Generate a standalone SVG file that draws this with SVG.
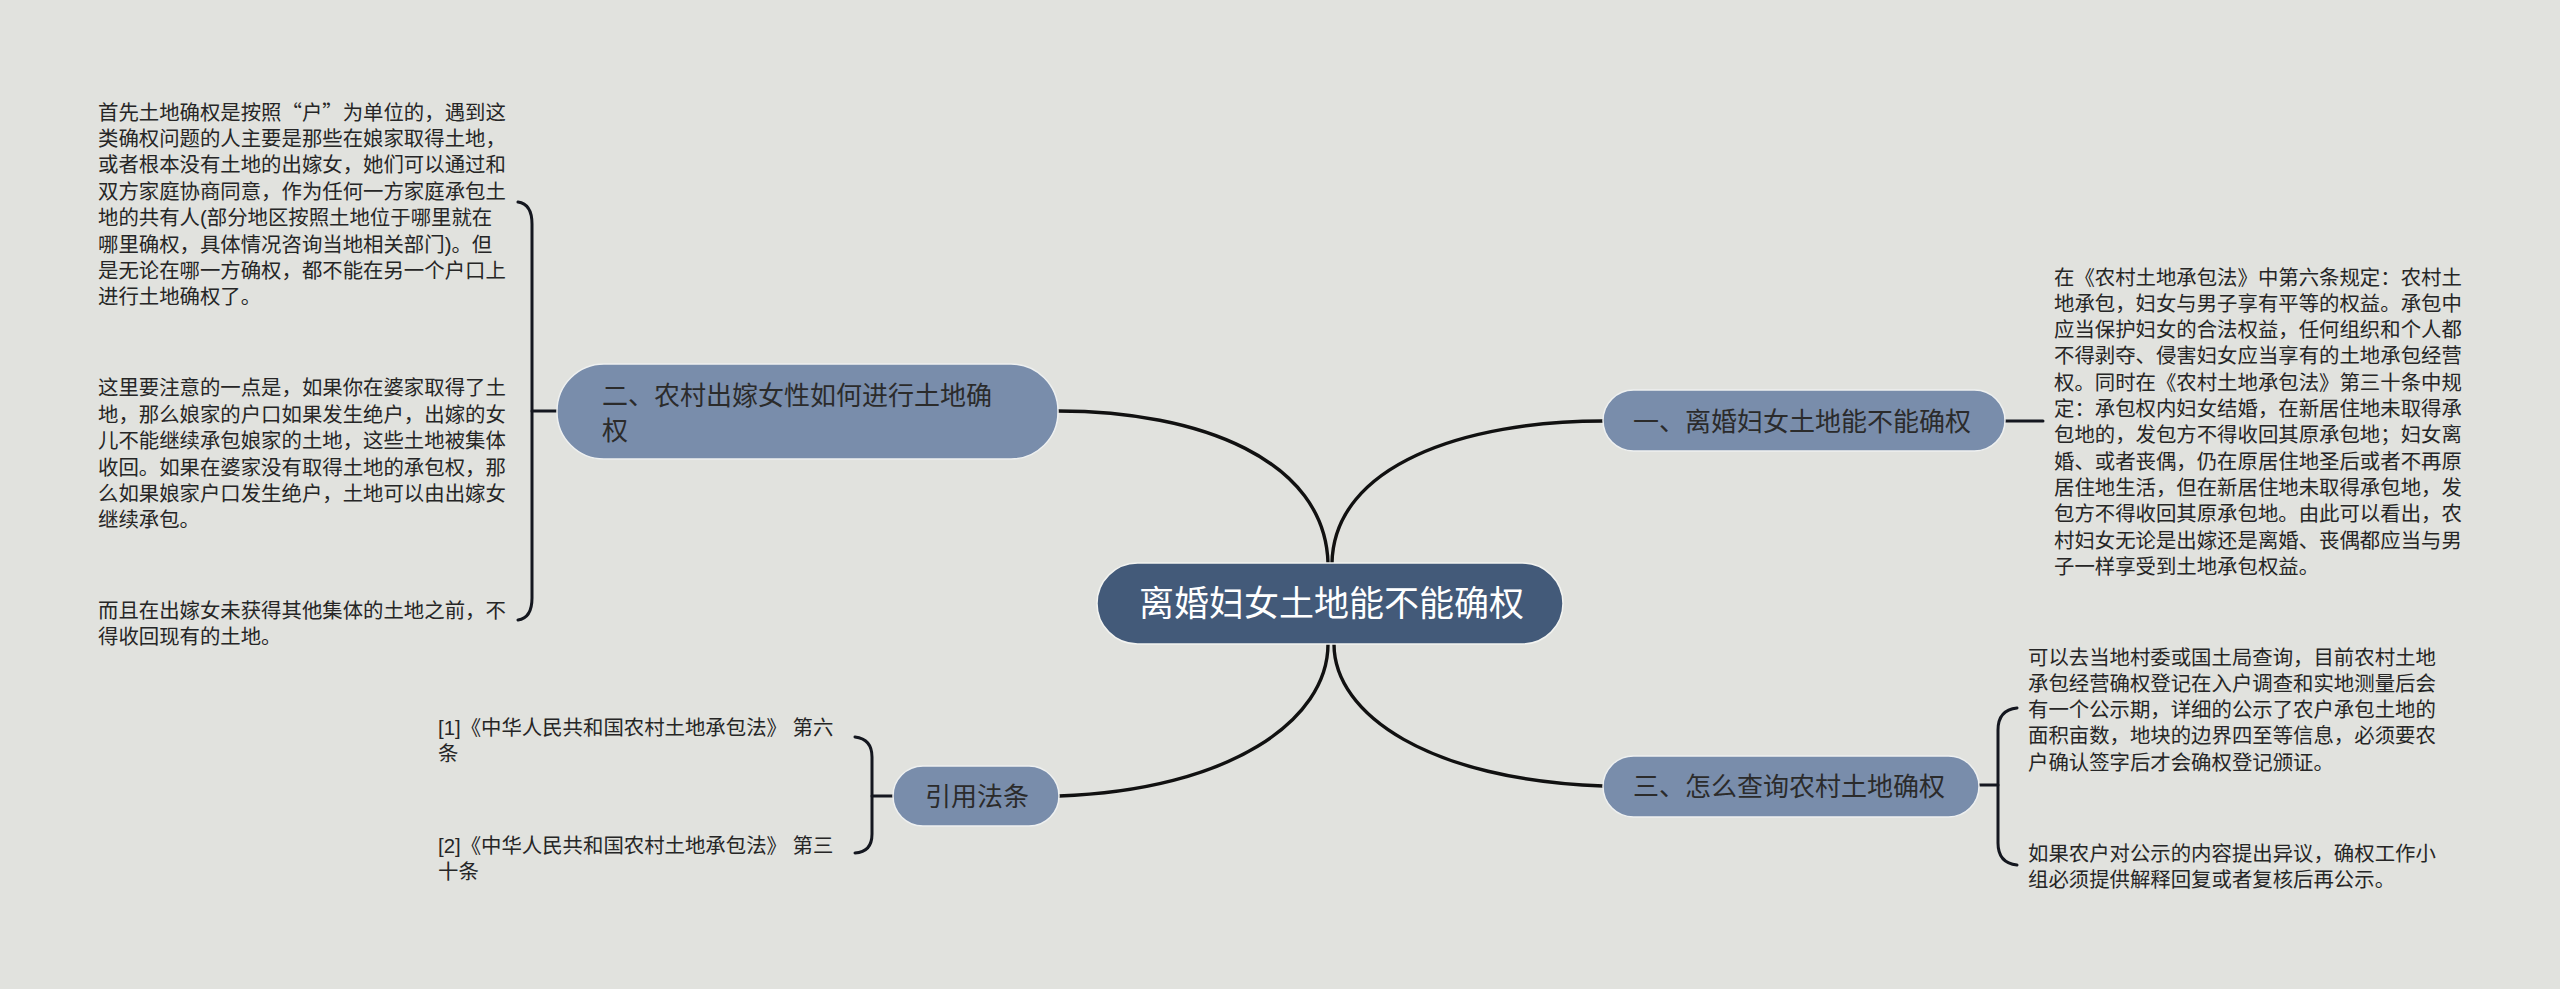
<svg xmlns="http://www.w3.org/2000/svg" width="2560" height="989" viewBox="0 0 2560 989">
<style>
.bg{fill:#e1e2de}
.root{fill:#435a79;stroke:#f2f3f0;stroke-width:1.5}
.br{fill:#798dab;stroke:#eef0f0;stroke-width:1.5}
.rt{font-family:"Liberation Sans","Noto Sans CJK SC",sans-serif;font-size:35px;fill:#ffffff}
.bt{font-family:"Liberation Sans","Noto Sans CJK SC",sans-serif;font-size:26px;fill:#2b2b2b}
.dt{font-family:"Liberation Sans","Noto Sans CJK SC",sans-serif;font-size:20.4px;fill:#262626}
.cjk{font-family:"Noto Sans CJK SC",sans-serif}
.ln{fill:none;stroke:#14171f;stroke-width:3;stroke-linecap:round}
.cv{fill:none;stroke:#111111;stroke-width:3.4;stroke-linecap:round}
</style>
<rect class="bg" x="0" y="0" width="2560" height="989"/>
<g id="connectors">
<path class="cv" d="M1058,411 C1200,411 1325,460 1328,563"/>
<path class="cv" d="M1603,421 C1465,421 1334,465 1332,563"/>
<path class="cv" d="M1059,796 C1230,790 1328,720 1328,644"/>
<path class="cv" d="M1603,786 C1430,780 1334,715 1334,644"/>
<path class="ln" d="M518,202 Q532,204 532,224 L532,598 Q532,618 518,620"/>
<path class="ln" d="M532,411 H557"/>
<path class="ln" d="M2005,421 H2043"/>
<path class="ln" d="M2017,708 Q1998,710 1998,730 L1998,843 Q1998,863 2017,865"/>
<path class="ln" d="M1979,785 H1998"/>
<path class="ln" d="M855,737 Q872,739 872,757 L872,834 Q872,852 855,853"/>
<path class="ln" d="M872,796 H893"/>
</g>
<g id="root">
<rect class="root" x="1097" y="563" width="466" height="81" rx="40.5"/>
<text class="rt" x="1139" y="616">离婚妇女土地能不能确权</text>
</g>
<g id="node-1">
<rect class="br" x="1603" y="390" width="402" height="61" rx="30.5"/>
<text class="bt" x="1633" y="431">一、离婚妇女土地能不能确权</text>
</g>
<g id="node-2">
<rect class="br" x="557" y="364" width="501" height="95" rx="47"/>
<text class="bt" x="602" y="405">二、农村出嫁女性如何进行土地确</text>
<text class="bt" x="602" y="440">权</text>
</g>
<g id="node-3">
<rect class="br" x="1603" y="756" width="376" height="61" rx="30.5"/>
<text class="bt" x="1633" y="796">三、怎么查询农村土地确权</text>
</g>
<g id="node-ref">
<rect class="br" x="893" y="766" width="166" height="60" rx="30"/>
<text class="bt" x="925" y="806">引用法条</text>
</g>
<g id="text-1">
<text class="dt" x="2054" y="284.5">在《农村土地承包法》中第六条规定：农村土</text>
<text class="dt" x="2054" y="310.8">地承包，妇女与男子享有平等的权益。承包中</text>
<text class="dt" x="2054" y="337.1">应当保护妇女的合法权益，任何组织和个人都</text>
<text class="dt" x="2054" y="363.4">不得剥夺、侵害妇女应当享有的土地承包经营</text>
<text class="dt" x="2054" y="389.7">权。同时在《农村土地承包法》第三十条中规</text>
<text class="dt" x="2054" y="416">定：承包权内妇女结婚，在新居住地未取得承</text>
<text class="dt" x="2054" y="442.3">包地的，发包方不得收回其原承包地；妇女离</text>
<text class="dt" x="2054" y="468.6">婚、或者丧偶，仍在原居住地圣后或者不再原</text>
<text class="dt" x="2054" y="494.9">居住地生活，但在新居住地未取得承包地，发</text>
<text class="dt" x="2054" y="521.2">包方不得收回其原承包地。由此可以看出，农</text>
<text class="dt" x="2054" y="547.5">村妇女无论是出嫁还是离婚、丧偶都应当与男</text>
<text class="dt" x="2054" y="573.8">子一样享受到土地承包权益。</text>
</g>
<g id="text-2a">
<text class="dt cjk" x="98" y="119.5">首先土地确权是按照“户”为单位的，遇到这</text>
<text class="dt" x="98" y="145.9">类确权问题的人主要是那些在娘家取得土地，</text>
<text class="dt" x="98" y="172.3">或者根本没有土地的出嫁女，她们可以通过和</text>
<text class="dt" x="98" y="198.7">双方家庭协商同意，作为任何一方家庭承包土</text>
<text class="dt" x="98" y="225.1">地的共有人(部分地区按照土地位于哪里就在</text>
<text class="dt" x="98" y="251.5">哪里确权，具体情况咨询当地相关部门)。但</text>
<text class="dt" x="98" y="277.9">是无论在哪一方确权，都不能在另一个户口上</text>
<text class="dt" x="98" y="304.3">进行土地确权了。</text>
</g>
<g id="text-2b">
<text class="dt" x="98" y="395.4">这里要注意的一点是，如果你在婆家取得了土</text>
<text class="dt" x="98" y="421.8">地，那么娘家的户口如果发生绝户，出嫁的女</text>
<text class="dt" x="98" y="448.2">儿不能继续承包娘家的土地，这些土地被集体</text>
<text class="dt" x="98" y="474.6">收回。如果在婆家没有取得土地的承包权，那</text>
<text class="dt" x="98" y="501">么如果娘家户口发生绝户，土地可以由出嫁女</text>
<text class="dt" x="98" y="527.4">继续承包。</text>
</g>
<g id="text-2c">
<text class="dt" x="98" y="617.8">而且在出嫁女未获得其他集体的土地之前，不</text>
<text class="dt" x="98" y="644.2">得收回现有的土地。</text>
</g>
<g id="text-3a">
<text class="dt" x="2028" y="664.5">可以去当地村委或国土局查询，目前农村土地</text>
<text class="dt" x="2028" y="690.8">承包经营确权登记在入户调查和实地测量后会</text>
<text class="dt" x="2028" y="717.1">有一个公示期，详细的公示了农户承包土地的</text>
<text class="dt" x="2028" y="743.4">面积亩数，地块的边界四至等信息，必须要农</text>
<text class="dt" x="2028" y="769.7">户确认签字后才会确权登记颁证。</text>
</g>
<g id="text-3b">
<text class="dt" x="2028" y="861">如果农户对公示的内容提出异议，确权工作小</text>
<text class="dt" x="2028" y="887.3">组必须提供解释回复或者复核后再公示。</text>
</g>
<g id="ref-1">
<text class="dt" x="438" y="735">[1]《中华人民共和国农村土地承包法》 第六</text>
<text class="dt" x="438" y="761">条</text>
</g>
<g id="ref-2">
<text class="dt" x="438" y="853">[2]《中华人民共和国农村土地承包法》 第三</text>
<text class="dt" x="438" y="879">十条</text>
</g>
</svg>
